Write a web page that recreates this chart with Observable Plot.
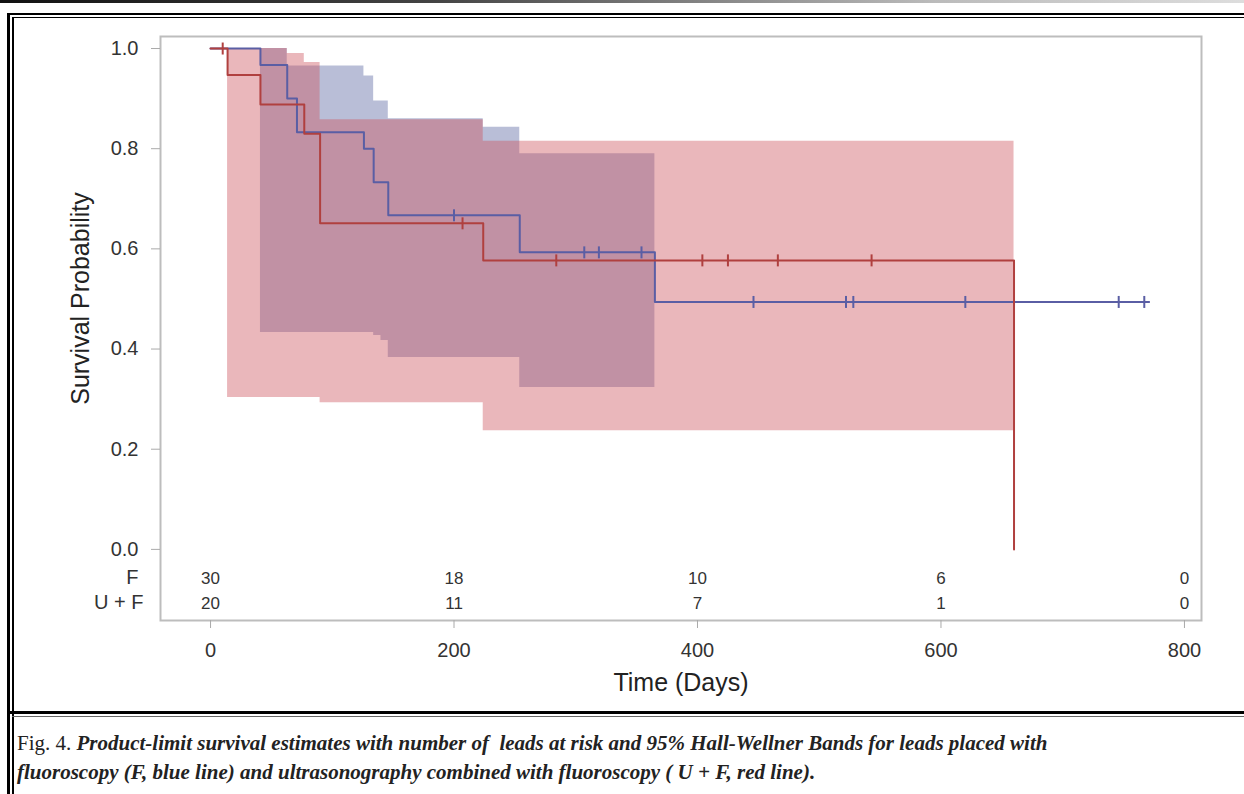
<!DOCTYPE html>
<html>
<head>
<meta charset="utf-8">
<script src="https://cdn.jsdelivr.net/npm/d3@7"></script>
<script src="https://cdn.jsdelivr.net/npm/@observablehq/plot@0.6"></script>
<style>
html,body{margin:0;padding:0;background:#fff;}
#page{position:relative;width:1244px;height:794px;overflow:hidden;background:#fff;}
.bar{position:absolute;background:#000;}
#topbar{left:0;top:0;width:1244px;height:3px;background:linear-gradient(to right,#111,#444 35%,#bbb 75%,#ddd);}
#chart{position:absolute;left:0;top:0;}
#caption{position:absolute;left:17px;top:729px;font-family:"Liberation Serif","DejaVu Serif",serif;font-size:21px;line-height:29px;color:#222;white-space:nowrap;}
#caption i{font-style:italic;font-weight:bold;}
</style>
</head>
<body>
<div id="page">
  <div id="topbar" class="bar"></div>
  <div class="bar" style="left:7px;top:13px;width:3px;height:781px;"></div>
  <div class="bar" style="left:12px;top:17px;width:1.5px;height:777px;"></div>
  <div class="bar" style="left:7px;top:13px;width:1237px;height:2px;"></div>
  <div class="bar" style="left:12px;top:16.5px;width:1232px;height:1.2px;"></div>
  <div class="bar" style="left:7px;top:711px;width:1237px;height:3px;"></div>
  <div class="bar" style="left:12px;top:716px;width:1232px;height:1px;background:#666;"></div>
  <div id="chart"></div>
  <div id="caption"><span>Fig. 4.</span> <i>Product-limit survival estimates with number of&nbsp; leads at risk and 95% Hall-Wellner Bands for leads placed with</i><br><i>fluoroscopy (F, blue line) and ultrasonography combined with fluoroscopy ( U + F, red line).</i></div>
</div>
<script>
// ---- Kaplan-Meier estimates ----
// F (fluoroscopy, blue)
const fTime = [0, 41, 63, 71, 126, 134, 146, 254, 365, 771];
const fSurv = [1.0, 0.967, 0.900, 0.833, 0.800, 0.733, 0.667, 0.593, 0.494, 0.494];
const fCensTime = [200, 307, 319, 354, 446, 522, 528, 620, 746, 767];
const fCensSurv = [0.667, 0.593, 0.593, 0.593, 0.494, 0.494, 0.494, 0.494, 0.494, 0.494];
const fBandTime = [41, 63, 126, 134, 140, 146, 224, 254, 365];
const fBandUpper = [1.0, 0.965, 0.945, 0.895, 0.895, 0.86, 0.843, 0.79, 0.79];
const fBandLower = [0.433, 0.433, 0.433, 0.427, 0.417, 0.383, 0.383, 0.323, 0.323];

// U + F (ultrasonography + fluoroscopy, red)
const ufTime = [0, 14, 41, 77, 90, 224, 660];
const ufSurv = [1.0, 0.947, 0.888, 0.830, 0.651, 0.577, 0.0];
const ufCensTime = [10, 207, 284, 404, 425, 466, 543];
const ufCensSurv = [1.0, 0.651, 0.577, 0.577, 0.577, 0.577, 0.577];
const ufBandTime = [14, 63, 77, 90, 224, 660];
const ufBandUpper = [1.0, 0.99, 0.972, 0.858, 0.815, 0.815];
const ufBandLower = [0.303, 0.303, 0.303, 0.293, 0.237, 0.237];

// Number at risk
const atRiskTimes = [0, 200, 400, 600, 800];
const atRiskF = [30, 18, 10, 6, 0];
const atRiskUF = [20, 11, 7, 1, 0];

const xTicks = [0, 200, 400, 600, 800];
const yTicks = [0, 0.2, 0.4, 0.6, 0.8, 1.0];

// ---- build tables ----
const fLine = fTime.map((t, i) => ({t, s: fSurv[i]}));
const ufLine = ufTime.map((t, i) => ({t, s: ufSurv[i]}));
const fCens = fCensTime.map((t, i) => ({t, s: fCensSurv[i]}));
const ufCens = ufCensTime.map((t, i) => ({t, s: ufCensSurv[i]}));
const fBand = fBandTime.map((t, i) => ({t, lo: fBandLower[i], hi: fBandUpper[i]}));
const ufBand = ufBandTime.map((t, i) => ({t, lo: ufBandLower[i], hi: ufBandUpper[i]}));

const blueLine = "#5a5ea4";
const redLine = "#b0403f";

const censorSymbol = {
  draw(context, size) {
    const h = Math.sqrt(size / Math.PI);
    context.moveTo(0, -h);
    context.lineTo(0, h);
  }
};

const chart = Plot.plot({
  width: 1244,
  height: 712,
  marginLeft: 160,
  marginRight: 43,
  marginTop: 36,
  marginBottom: 92,
  style: {background: "transparent", fontFamily: "'Liberation Sans', Arial, sans-serif", color: "#333", overflow: "visible"},
  x: {domain: [-41.1, 814], ticks: xTicks},
  y: {domain: [-0.142, 1.024]},
  marks: [
    Plot.areaY(fBand, {x: "t", y1: "lo", y2: "hi", curve: "step-after", fill: "rgb(88,99,160)", fillOpacity: 0.42}),
    Plot.areaY(ufBand, {x: "t", y1: "lo", y2: "hi", curve: "step-after", fill: "rgb(206,84,94)", fillOpacity: 0.42}),
    Plot.line(fLine, {x: "t", y: "s", curve: "step-after", stroke: blueLine, strokeWidth: 2}),
    Plot.line(ufLine, {x: "t", y: "s", curve: "step-after", stroke: redLine, strokeWidth: 2}),
    Plot.dot(fCens, {x: "t", y: "s", symbol: censorSymbol, r: 6, stroke: blueLine, strokeWidth: 2, fill: "none"}),
    Plot.dot(ufCens, {x: "t", y: "s", symbol: censorSymbol, r: 6, stroke: redLine, strokeWidth: 2, fill: "none"}),
    Plot.frame({stroke: "#bdbdbd", strokeWidth: 2}),
    Plot.axisY({ticks: yTicks, tickFormat: d3.format(".1f"), tickSize: 9, tickPadding: 13, fontSize: 20, label: null, stroke: "#aaa", fill: "#333"}),
    Plot.axisX({ticks: xTicks, tickFormat: d3.format("d"), tickSize: 8, tickPadding: 14, fontSize: 20, label: null, stroke: "#aaa", fill: "#333"}),
    Plot.text(atRiskTimes, {x: d => d, text: (d, i) => String(atRiskF[i]), frameAnchor: "bottom", dy: -37, fontSize: 17, fill: "#333"}),
    Plot.text(atRiskTimes, {x: d => d, text: (d, i) => String(atRiskUF[i]), frameAnchor: "bottom", dy: -12, fontSize: 17, fill: "#333"}),
    Plot.text(["F"], {frameAnchor: "bottom-left", dx: -22, dy: -37, textAnchor: "end", fontSize: 20, fill: "#333"}),
    Plot.text(["U + F"], {frameAnchor: "bottom-left", dx: -17, dy: -12, textAnchor: "end", fontSize: 20, fill: "#333"}),
    Plot.text(["Time (Days)"], {frameAnchor: "bottom", dy: 70, textAnchor: "middle", fontSize: 25, fill: "#222"}),
    Plot.text(["Survival Probability"], {frameAnchor: "left", dx: -80, dy: -30, textAnchor: "middle", rotate: -90, fontSize: 25, fill: "#222"})
  ]
});
document.getElementById("chart").appendChild(chart);
</script>
</body>
</html>
